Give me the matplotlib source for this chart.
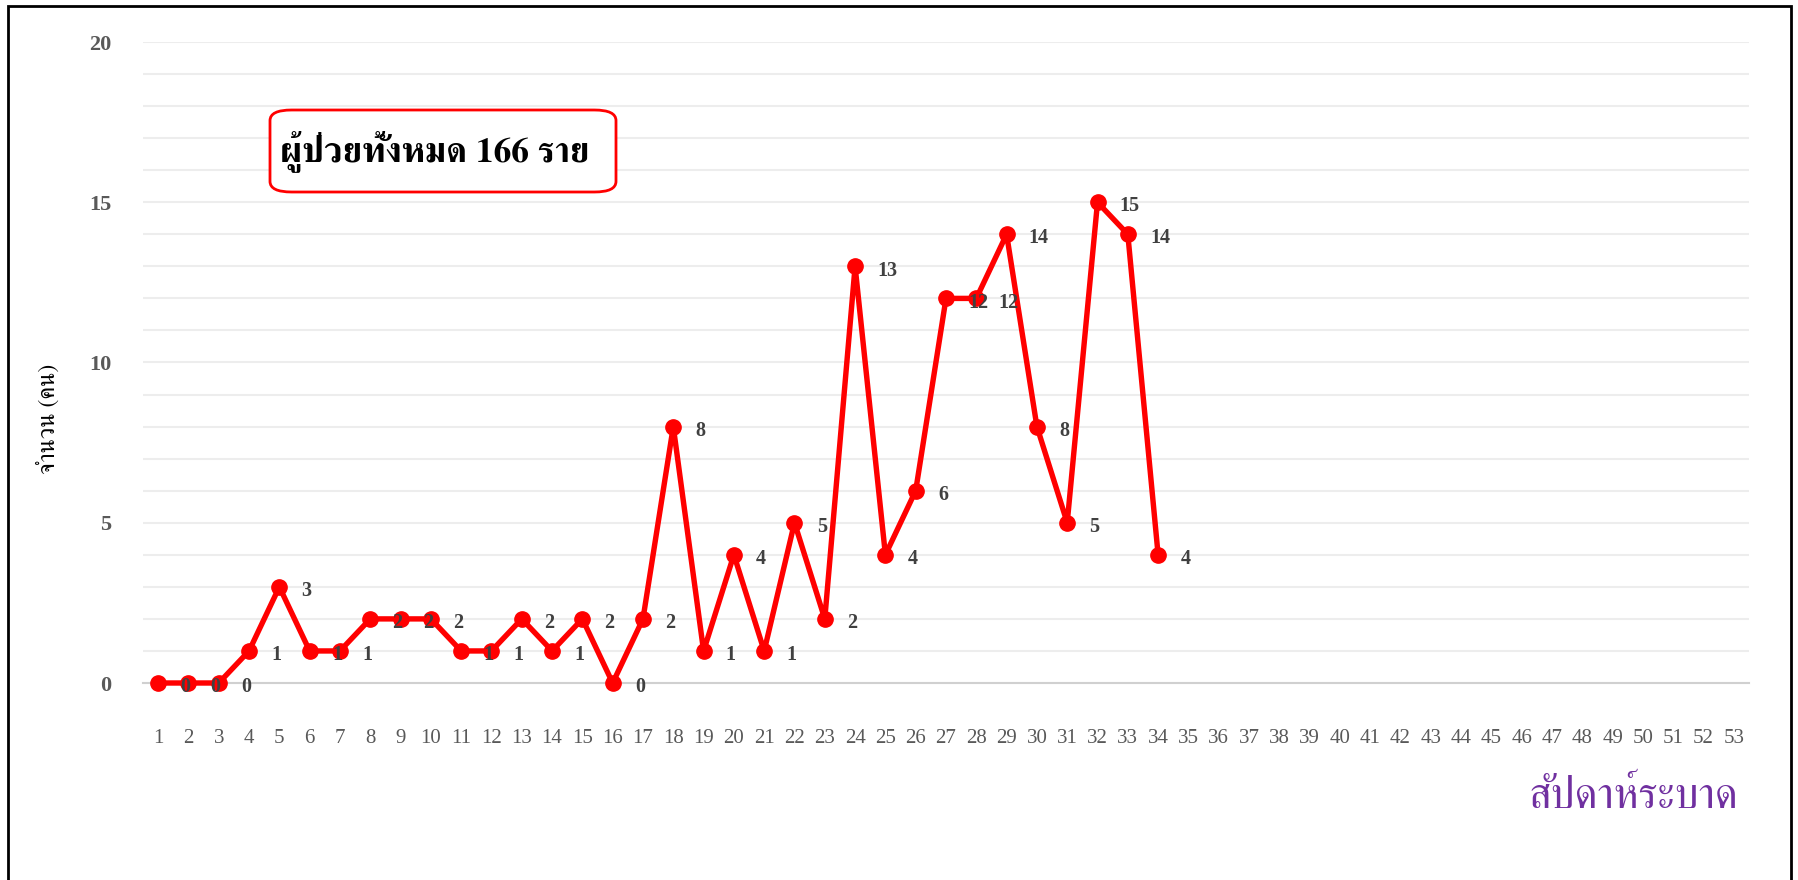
import numpy as np
import matplotlib
matplotlib.use("Agg")
import matplotlib.pyplot as plt
from matplotlib.patches import FancyBboxPatch, Rectangle

# weekly case counts (weeks 1-34 reported so far)
weeks = list(range(1, 54))
cases = [0, 0, 0, 1, 3, 1, 1, 2, 2, 2, 1, 1, 2, 1, 2, 0, 2, 8, 1, 4,
         1, 5, 2, 13, 4, 6, 12, 12, 14, 8, 5, 15, 14, 4]
yTicks = [0, 5, 10, 15, 20]
titleText = "ผู้ป่วยทั้งหมด 166 ราย"
xLabel = "สัปดาห์ระบาด"
yLabel = "จำนวน (คน)"

serif = "Liberation Serif"
thai = ["FreeSerif", "Liberation Serif"]

fig = plt.figure(figsize=(17.99, 8.8), dpi=100)
ax = fig.add_axes([143 / 1799, 1 - 683 / 880, 1606 / 1799, 641 / 880])

xs = np.arange(1, len(cases) + 1)
ax.plot(xs, cases, color="#FF0000", lw=3.9, marker="o", ms=11,
        clip_on=False, zorder=3)

# value labels to the right of each point
for x, v in zip(xs, cases):
    ax.annotate(str(v), (x, v), xytext=(16, -3), textcoords="offset points",
                ha="left", va="center", fontsize=14.5, fontweight="bold",
                family=serif, color="#404040", zorder=4)

ax.set_xlim(0.5, 53.5)
ax.set_ylim(0, 20)
ax.set_xticks(weeks)
ax.set_xticklabels([str(w) for w in weeks], family=serif, fontsize=15,
                   color="#595959")
ax.set_yticks(yTicks)
ax.set_yticklabels([str(t) for t in yTicks], family=serif, fontsize=16,
                   fontweight="bold", color="#595959")
ax.set_yticks(range(0, 21), minor=True)
ax.tick_params(axis="both", which="both", length=0)
ax.tick_params(axis="x", pad=33)
ax.tick_params(axis="y", pad=23)

ax.grid(which="both", axis="y", color="#EDEDED", lw=1.5)
ax.set_axisbelow(True)
for s in ["top", "right", "left"]:
    ax.spines[s].set_visible(False)
ax.spines["bottom"].set_color("#D0D0D0")
ax.spines["bottom"].set_linewidth(1.5)

# axis titles
fig.text(48 / 1799, 1 - 419 / 880, yLabel, rotation=90, ha="center",
         va="center", family=thai, fontsize=17, color="#000000")
fig.text(1738 / 1799, 1 - 808 / 880, xLabel, ha="right", va="baseline",
         family=thai, fontsize=31, color="#7030A0")

# total box
box = FancyBboxPatch((270 / 1799, 1 - 192 / 880), 346 / 1799, 82 / 880,
                     boxstyle="round,pad=0,rounding_size=0.012",
                     transform=fig.transFigure, facecolor="white",
                     edgecolor="#FF0000", lw=2, zorder=5)
fig.patches.append(box)
fig.text(435 / 1799, 1 - 151 / 880, titleText, ha="center", va="center",
         family=thai, fontsize=25.5, fontweight="bold", color="black", zorder=6)

# outer frame
fig.patches.append(Rectangle((8 / 1799, -0.05), 1783 / 1799, 1.05 - 6 / 880,
                             transform=fig.transFigure, fill=False,
                             edgecolor="black", lw=2))

fig.savefig("out.png", dpi=100)
